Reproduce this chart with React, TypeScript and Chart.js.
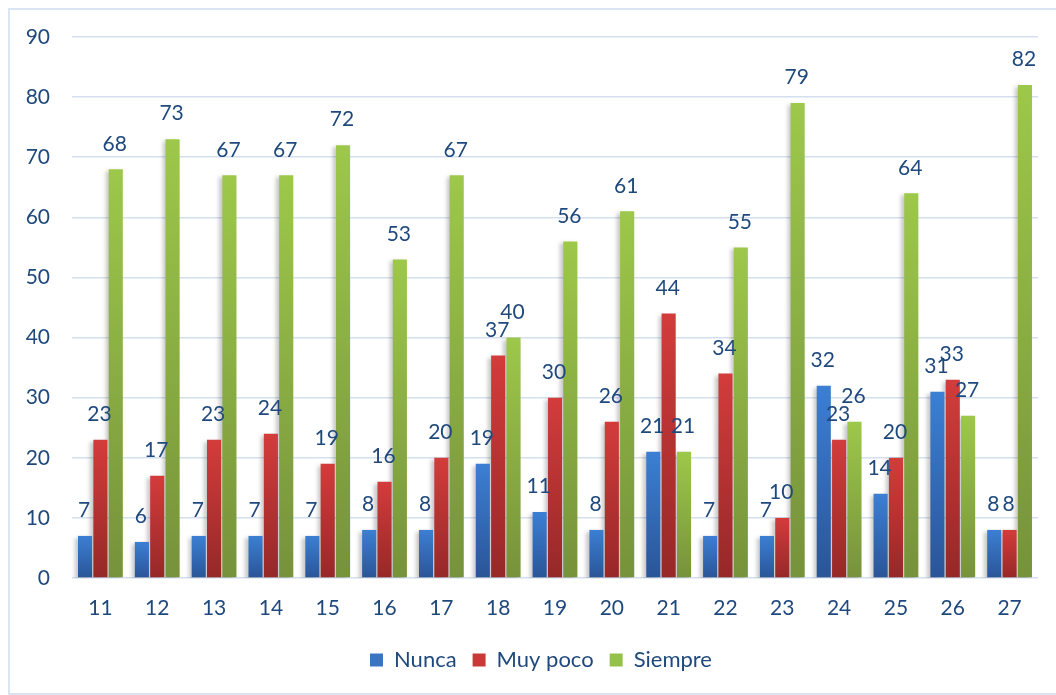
import React, { useEffect, useRef } from "react";
import { Chart, registerables } from "chart.js";

Chart.register(...registerables);

const categories = ["11", "12", "13", "14", "15", "16", "17", "18", "19", "20", "21", "22", "23", "24", "25", "26", "27"];
const nunca = [7, 6, 7, 7, 7, 8, 8, 19, 11, 8, 21, 7, 7, 32, 14, 31, 8];
const muyPoco = [23, 17, 23, 24, 19, 16, 20, 37, 30, 26, 44, 34, 10, 23, 20, 33, 8];
const siempre = [68, 73, 67, 67, 72, 53, 67, 40, 56, 61, 21, 55, 79, 26, 64, 27, 82];
const seriesNames = ["Nunca", "Muy poco", "Siempre"];

const TEXT = "#1f497d";
const FONT = "Lato, 'Open Sans', sans-serif";

function gradFill(top: string, bottom: string, solid: string) {
  return (ctx: any) => {
    const chart = ctx.chart;
    if (!chart.chartArea || !ctx.parsed || ctx.type !== "data") return solid;
    const y = chart.scales.y;
    const yTop = y.getPixelForValue(ctx.parsed.y);
    const yBot = y.getPixelForValue(0);
    if (!isFinite(yTop) || !isFinite(yBot) || yTop === yBot) return solid;
    const g = chart.ctx.createLinearGradient(0, yTop, 0, yBot);
    g.addColorStop(0, top);
    g.addColorStop(1, bottom);
    return g;
  };
}

const shadowPlugin = {
  id: "barShadow",
  beforeDatasetsDraw(chart: any) {
    const c = chart.ctx;
    c.save();
    c.shadowColor = "rgba(0,0,0,0.22)";
    c.shadowBlur = 4;
    c.shadowOffsetX = -3;
    c.shadowOffsetY = 2;
  },
  afterDatasetsDraw(chart: any) {
    chart.ctx.restore();
  },
};

const labelPlugin = {
  id: "valueLabels",
  afterDatasetsDraw(chart: any) {
    const c = chart.ctx;
    c.save();
    c.font = `21px ${FONT}`;
    c.fillStyle = TEXT;
    c.textAlign = "center";
    c.textBaseline = "bottom";
    chart.data.datasets.forEach((ds: any, i: number) => {
      const meta = chart.getDatasetMeta(i);
      meta.data.forEach((bar: any, j: number) => {
        c.fillText(String(ds.data[j]), bar.x - 1, bar.y - 15);
      });
    });
    c.restore();
  },
};

const legendShift = {
  id: "legendShift",
  afterLayout(chart: any) {
    if (chart.legend) chart.legend.left = 34;
  },
};

export default function App() {
  const ref = useRef<HTMLCanvasElement>(null);
  useEffect(() => {
    document.body.style.overflow = "hidden";
    const chart = new Chart(ref.current!, {
      type: "bar",
      data: {
        labels: categories,
        datasets: [
          { label: seriesNames[0], data: nunca, backgroundColor: gradFill("#3c7fd3", "#2a5597", "#3a73c0") },
          { label: seriesNames[1], data: muyPoco, backgroundColor: gradFill("#d33c3b", "#962828", "#c83a38") },
          { label: seriesNames[2], data: siempre, backgroundColor: gradFill("#9dc84a", "#76923b", "#92c047") },
        ],
      },
      options: {
        animation: false,
        responsive: false,
        maintainAspectRatio: false,
        layout: { padding: { left: 0, right: 16, top: 27, bottom: 12 } },
        datasets: { bar: { categoryPercentage: 0.81, barPercentage: 0.92 } },
        plugins: {
          tooltip: { enabled: false },
          legend: {
            position: "bottom",
            labels: {
              boxWidth: 13,
              boxHeight: 13,
              padding: 16,
              color: TEXT,
              font: { size: 22, family: FONT },
              generateLabels: () =>
                [
                  ["#3a75c4", 0],
                  ["#c83a38", 1],
                  ["#94c148", 2],
                ].map(([col, i]: any) => ({
                  text: seriesNames[i],
                  fillStyle: col,
                  strokeStyle: col,
                  lineWidth: 0,
                  datasetIndex: i,
                  hidden: false,
                  fontColor: TEXT,
                })),
            },
          },
        },
        scales: {
          x: {
            grid: { display: false, drawTicks: false },
            border: { display: false },
            ticks: { color: TEXT, font: { size: 21, family: FONT }, padding: 18 },
            afterFit: (s: any) => {
              s.height = 55;
              s.paddingLeft = 0;
              s.paddingRight = 0;
            },
          },
          y: {
            min: 0,
            max: 90,
            ticks: { stepSize: 10, color: TEXT, font: { size: 21, family: FONT }, padding: 22 },
            grid: { color: "#d5e0ef", lineWidth: 1.5, drawTicks: false },
            border: { display: false },
            afterFit: (s: any) => {
              s.width = 62;
              s.paddingTop = 0;
              s.paddingBottom = 0;
            },
          },
        },
      },
      plugins: [shadowPlugin, labelPlugin, legendShift],
    });
    return () => chart.destroy();
  }, []);
  return (
    <div
      style={{
        position: "fixed",
        left: 8,
        top: 8,
        width: 1056,
        height: 687,
        borderTop: "2px solid #dbe4f2",
        borderLeft: "2px solid #dbe4f2",
        borderBottom: "2px solid #dbe4f2",
        boxSizing: "border-box",
        background: "#fff",
      }}
    >
      <canvas ref={ref} width={1044} height={683} style={{ display: "block" }} />
    </div>
  );
}
